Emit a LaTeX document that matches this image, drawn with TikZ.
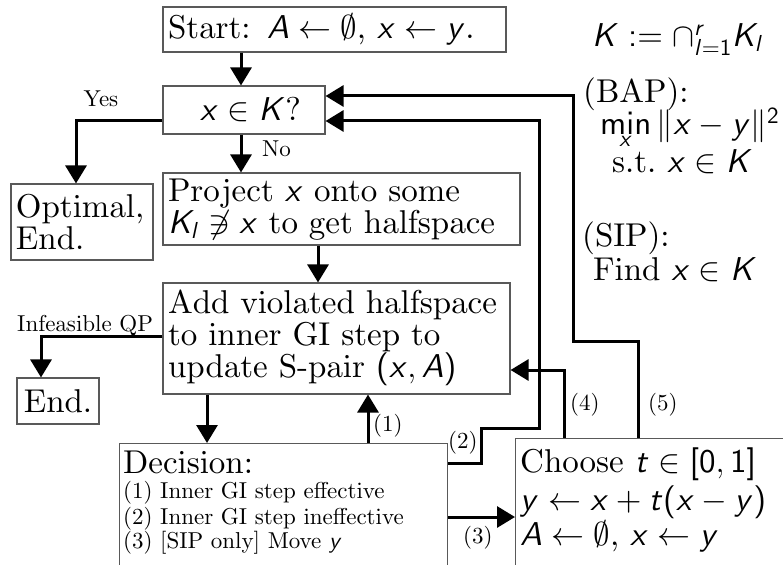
\RequirePackage{fix-cm}
\documentclass[tikz,border=0pt]{standalone}
\usetikzlibrary{arrows.meta}
\DeclareFontFamily{OT1}{cmrx}{}
\DeclareFontShape{OT1}{cmrx}{m}{n}{<-> cmr10}{}
\DeclareFontFamily{OT1}{cmssx}{}
\DeclareFontShape{OT1}{cmssx}{m}{n}{<-> cmss10}{}
\DeclareFontShape{OT1}{cmssx}{m}{sl}{<-> cmssi10}{}
\DeclareSymbolFont{sfitalic}{OT1}{cmssx}{m}{sl}
\SetSymbolFont{operators}{normal}{OT1}{cmssx}{m}{n}
\DeclareMathSymbol{x}{\mathalpha}{sfitalic}{`x}
\DeclareMathSymbol{y}{\mathalpha}{sfitalic}{`y}
\DeclareMathSymbol{A}{\mathalpha}{sfitalic}{`A}
\DeclareMathSymbol{K}{\mathalpha}{sfitalic}{`K}
\DeclareMathSymbol{t}{\mathalpha}{sfitalic}{`t}
\DeclareMathSymbol{l}{\mathalpha}{sfitalic}{`l}
\DeclareMathSymbol{r}{\mathalpha}{sfitalic}{`r}
\newcommand\bigfnt{\fontencoding{OT1}\fontfamily{cmrx}\fontsize{33}{32}\selectfont}
\newcommand\smallfnt{\fontencoding{OT1}\fontfamily{cmrx}\fontsize{23}{25}\selectfont}
\begin{document}
\begin{tikzpicture}[x=1pt,y=-1pt,
  box/.style={draw=black!65, line width=1.1pt, rectangle, inner xsep=5pt, inner ysep=0pt, align=left, font=\bigfnt},
  arr/.style={line width=3pt, -{Triangle[length=18pt,width=21pt]}},
  lbl/.style={font=\smallfnt, inner sep=0pt},
  txt/.style={font=\bigfnt, inner sep=0pt, anchor=base west}]
\useasboundingbox (0,0) rectangle (783,564);
\clip (0,0) rectangle (783,564);

% boxes
\node[box, minimum width=343pt, minimum height=45pt, text width=333pt] (start) at (334.5,29.5) {Start: $A\leftarrow\emptyset$, $x\leftarrow y$.};
\node[box, minimum width=162pt, minimum height=48pt, text width=152pt] (q) at (244,110) {\hspace*{32pt}$x\in K$?};
\node[box, minimum width=142pt, minimum height=76pt, text width=132pt] (opt) at (82,222) {Optimal,\\End.};
\node[box, minimum width=357pt, minimum height=72pt, text width=347pt] (proj) at (341.5,209) {Project $x$ onto some\\$K_l\not\ni x$ to get halfspace};
\node[box, minimum width=347pt, minimum height=111pt, text width=337pt] (add) at (336.5,338.5) {Add violated halfspace\\to inner GI step to\\update S-pair $(x,A)$};
\node[box, minimum width=82pt, minimum height=46pt, text width=72pt, align=center] (endb) at (58,401) {End.};
\node[box, anchor=north west, minimum width=328pt, minimum height=200pt] (dec) at (119,443) {};
\node[box, anchor=north west, minimum width=320pt, minimum height=200pt] (choose) at (515,438) {};

% box texts of the clipped boxes
\node[txt] (decT) at (123,473) {Decision:};
\node[txt, font=\smallfnt] (dec1) at (123,498) {(1) Inner GI step effective};
\node[txt, font=\smallfnt] (dec2) at (123,524) {(2) Inner GI step ineffective};
\node[txt, font=\smallfnt] (dec3) at (123,548) {(3) [SIP only] Move $y$};
\node[txt] (ch1) at (520,472) {Choose $t\in[0,1]$};
\node[txt] (ch2) at (520,510) {$y\leftarrow x+t(x-y)$};
\node[txt] (ch3) at (520,545) {$A\leftarrow\emptyset$, $x\leftarrow y$};

% right-hand text
\node[txt] (kdef) at (592,47) {$K := \cap_{l=1}^{r} K_l$};
\node[txt] (bap) at (583,103) {(BAP):};
\node[txt] (bapmin) at (600,135) {$\min\limits_{x}\|x-y\|^2$};
\node[txt] (bapst) at (612,172) {s.t.\ $x\in K$};
\node[txt] (sip) at (582,246) {(SIP):};
\node[txt] (sipfind) at (593,280) {Find $x\in K$};

% labels
\node[lbl, anchor=base] (yes) at (101,107) {Yes};
\node[lbl, anchor=base west] (no) at (262,157) {No};
\node[lbl, anchor=base west] (infq) at (17,331) {Infeasible QP};
\node[lbl, anchor=base west] (l1) at (373,431) {(1)};
\node[lbl, anchor=base west] (l2) at (448,448) {(2)};
\node[lbl, anchor=base west] (l3) at (463,543) {(3)};
\node[lbl, anchor=base west] (l4) at (570,410) {(4)};
\node[lbl, anchor=base west] (l5) at (648,410) {(5)};

% bend points
\coordinate (ax) at (241,0);
\coordinate (bx) at (318,0);
\coordinate (ybend) at (76,121);
\coordinate (ibend) at (41,336);
\coordinate (a2d) at (207,0);
\coordinate (d2a) at (368,0);
\coordinate (p2a) at (481,463);
\coordinate (p2b) at (481,428);
\coordinate (p2c) at (539,428);
\coordinate (p2d) at (539,121);
\coordinate (p3) at (0,517);
\coordinate (p4) at (564,370);
\coordinate (p5a) at (638,341);
\coordinate (p5b) at (573,341);
\coordinate (p5c) at (573,96);

% connectors
\draw[arr] (start.south -| ax) -- (q.north -| ax);
\draw[arr] (q.south -| ax) -- (proj.north -| ax);
\draw[arr] (q.west |- ybend) -- (ybend) -- (ybend |- opt.north);
\draw[arr] (proj.south -| bx) -- (add.north -| bx);
\draw[arr] (add.west |- ibend) -- (ibend) -- (ibend |- endb.north);
\draw[arr] (add.south -| a2d) -- (dec.north -| a2d);
\draw[arr] (dec.north -| d2a) -- (add.south -| d2a);
\draw[arr] (dec.east |- p2a) -- (p2a) -- (p2b) -- (p2c) -- (p2d) -- (q.east |- p2d);
\draw[arr] (dec.east |- p3) -- (choose.west |- p3);
\draw[arr] (choose.north -| p4) -- (p4) -- (add.east |- p4);
\draw[arr] (choose.north -| p5a) -- (p5a) -- (p5b) -- (p5c) -- (q.east |- p5c);
\end{tikzpicture}
\end{document}
